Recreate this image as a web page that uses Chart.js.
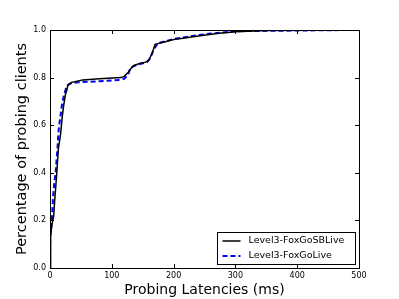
<!DOCTYPE html>
<html>
<head>
<meta charset="utf-8">
<script src="https://cdn.jsdelivr.net/npm/chart.js@4.4.0/dist/chart.umd.min.js"></script>
<style>
  html, body { margin: 0; padding: 0; background: #fff; }
  #wrap { width: 399px; height: 299px; }
</style>
</head>
<body>
<div id="wrap"><canvas id="cdf"></canvas></div>
<script>
// CDF of probing latencies
const sbLatency = [0, 0.5, 1.5, 3, 6, 8, 9, 11, 13.5, 17, 20, 22, 25, 27, 29, 35, 53, 80, 115, 120, 126, 130, 135, 146, 155, 160, 165, 170, 185, 200, 215, 240, 270, 300, 350, 480]
const sbFraction = [0, 0.1, 0.14, 0.18, 0.22, 0.3, 0.33, 0.4, 0.5, 0.56, 0.64, 0.68, 0.73, 0.745, 0.77, 0.78, 0.79, 0.795, 0.8, 0.805, 0.82, 0.835, 0.85, 0.86, 0.865, 0.875, 0.9, 0.94, 0.95, 0.96, 0.965, 0.975, 0.985, 0.993, 0.998, 1.0]

const liveLatency = [0, 0.3, 1.5, 3, 5, 7, 9, 12, 14, 17, 19, 22, 27, 33, 45, 80, 110, 120, 126, 130, 137, 150, 157, 162, 168, 175, 190, 200, 230, 260, 300, 485]
const liveFraction = [0, 0.13, 0.15, 0.2, 0.3, 0.36, 0.4, 0.5, 0.58, 0.64, 0.68, 0.72, 0.765, 0.775, 0.78, 0.785, 0.79, 0.795, 0.81, 0.84, 0.85, 0.86, 0.865, 0.88, 0.92, 0.945, 0.955, 0.962, 0.975, 0.985, 0.995, 1.0]

const seriesNames = ['Level3-FoxGoSBLive', 'Level3-FoxGoLive']
const xTicks = [0, 100, 200, 300, 400, 500]
const yTicks = [0.0, 0.2, 0.4, 0.6, 0.8, 1.0]

const FONT = 'DejaVu Sans'

function toPoints( xs, ys ) {
  return xs.map(( x, i ) => ({ x: x, y: ys[i] }))
}

// ticks pointing inward on all four sides, like matplotlib
const innerTicks = {
  id: 'innerTicks',
  afterDatasetsDraw( chart ) {
    const ctx = chart.ctx
    const a = chart.chartArea
    const xs = chart.scales.x
    const ys = chart.scales.y
    ctx.save()
    ctx.strokeStyle = '#000'
    ctx.lineWidth = 1
    ctx.beginPath()
    xTicks.forEach(v => {
      const px = Math.round(xs.getPixelForValue(v)) + 0.5
      ctx.moveTo(px, a.bottom); ctx.lineTo(px, a.bottom - 4)
      ctx.moveTo(px, a.top); ctx.lineTo(px, a.top + 4)
    })
    yTicks.forEach(v => {
      const py = Math.round(ys.getPixelForValue(v)) + 0.5
      ctx.moveTo(a.left, py); ctx.lineTo(a.left + 4, py)
      ctx.moveTo(a.right, py); ctx.lineTo(a.right - 4, py)
    })
    ctx.stroke()
    ctx.strokeRect(Math.round(a.left) + 0.5, Math.round(a.top) + 0.5, Math.round(a.right - a.left), Math.round(a.bottom - a.top))
    ctx.restore()
  }
}

// legend box in lower right corner of the plot
const boxLegend = {
  id: 'boxLegend',
  afterDraw( chart ) {
    const ctx = chart.ctx
    const a = chart.chartArea
    const w = 138, h = 32
    const x0 = Math.round(a.right - 4 - w) + 0.5
    const y0 = Math.round(a.bottom - 4 - h) + 0.5
    ctx.save()
    ctx.fillStyle = '#fff'
    ctx.fillRect(x0, y0, w, h)
    ctx.strokeStyle = '#000'
    ctx.lineWidth = 1
    ctx.strokeRect(x0, y0, w, h)
    ctx.font = '9.5px ' + FONT
    ctx.textBaseline = 'middle'
    chart.data.datasets.forEach(( ds, i ) => {
      const ly = y0 + 8.5 + i * 15
      ctx.strokeStyle = ds.borderColor
      ctx.lineWidth = ds.borderWidth
      ctx.setLineDash(ds.borderDash || [])
      ctx.beginPath()
      ctx.moveTo(x0 + 5, ly)
      ctx.lineTo(x0 + 23, ly)
      ctx.stroke()
      ctx.setLineDash([])
      ctx.fillStyle = '#000'
      ctx.fillText(ds.label, x0 + 31, ly)
    })
    ctx.restore()
  }
}

const chart = new Chart(document.getElementById('cdf'), {
  type: 'scatter',
  data: {
    datasets: [
      {
        label: seriesNames[0],
        data: toPoints(sbLatency, sbFraction),
        showLine: true,
        borderColor: '#000000',
        borderWidth: 1.5,
        pointRadius: 0,
        tension: 0
      },
      {
        label: seriesNames[1],
        data: toPoints(liveLatency, liveFraction),
        showLine: true,
        borderColor: '#0000ff',
        borderWidth: 2,
        borderDash: [5, 3],
        pointRadius: 0,
        tension: 0
      }
    ]
  },
  options: {
    responsive: true,
    maintainAspectRatio: false,
    animation: false,
    layout: { padding: { top: 30, right: 40, left: 0, bottom: 0 } },
    plugins: {
      legend: { display: false },
      tooltip: { enabled: false }
    },
    scales: {
      x: {
        type: 'linear',
        min: 0,
        max: 500,
        afterBuildTicks: s => { s.ticks = xTicks.map(v => ({ value: v })) },
        afterFit: s => { s.height = 31 },
        grid: { display: false, drawTicks: false, tickLength: 0 },
        border: { display: false },
        ticks: {
          color: '#000',
          padding: 3,
          font: { family: FONT, size: 8 },
          maxRotation: 0
        },
        title: {
          display: true,
          text: 'Probing Latencies (ms)',
          color: '#000',
          font: { family: FONT, size: 14 },
          padding: { top: 0, bottom: 0 }
        }
      },
      y: {
        type: 'linear',
        min: 0,
        max: 1,
        afterBuildTicks: s => { s.ticks = yTicks.map(v => ({ value: v })) },
        afterFit: s => { s.width = 50 },
        grid: { display: false, drawTicks: false, tickLength: 0 },
        border: { display: false },
        ticks: {
          color: '#000',
          padding: 4,
          font: { family: FONT, size: 8 },
          callback: v => v.toFixed(1)
        },
        title: {
          display: true,
          text: 'Percentage of probing clients',
          color: '#000',
          font: { family: FONT, size: 14.5 },
          padding: { top: 14, bottom: 0 }
        }
      }
    }
  },
  plugins: [innerTicks, boxLegend]
})
</script>
</body>
</html>
